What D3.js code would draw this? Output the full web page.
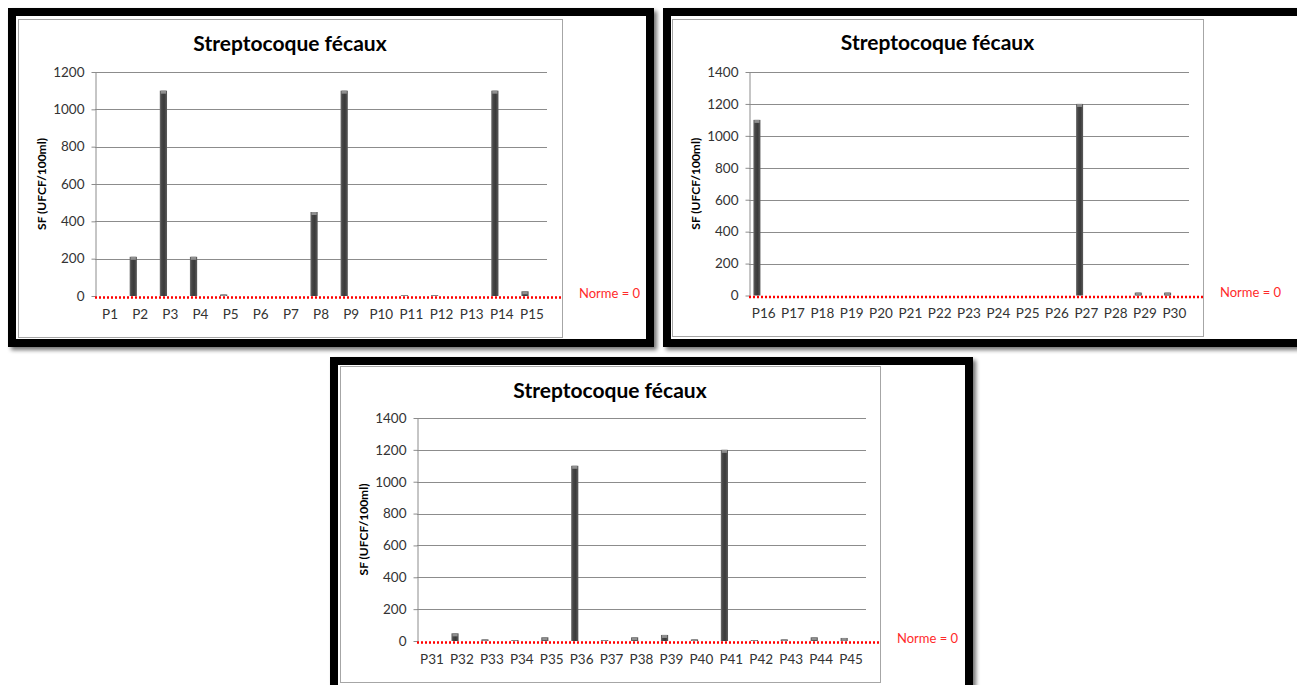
<!DOCTYPE html>
<html>
<head>
<meta charset="utf-8">
<script src="https://cdn.jsdelivr.net/npm/d3@7"></script>
<style>
  html, body { margin: 0; padding: 0; background: #fff; }
  svg { display: block; }
</style>
</head>
<body>
<svg id="fig" width="1297" height="685"></svg>
<script>
// Streptocoque fécaux, SF (UFCF/100ml), stations P1–P45
const stations1 = ["P1","P2","P3","P4","P5","P6","P7","P8","P9","P10","P11","P12","P13","P14","P15"];
const sfValues1 = [0, 210, 1100, 210, 8, 0, 0, 450, 1100, 0, 4, 4, 0, 1100, 25];
const yTicks1 = [0, 200, 400, 600, 800, 1000, 1200];

const stations2 = ["P16","P17","P18","P19","P20","P21","P22","P23","P24","P25","P26","P27","P28","P29","P30"];
const sfValues2 = [1100, 0, 0, 0, 0, 0, 0, 0, 0, 0, 0, 1200, 0, 18, 18];
const yTicks2 = [0, 200, 400, 600, 800, 1000, 1200, 1400];

const stations3 = ["P31","P32","P33","P34","P35","P36","P37","P38","P39","P40","P41","P42","P43","P44","P45"];
const sfValues3 = [0, 48, 10, 6, 23, 1100, 6, 23, 38, 10, 1200, 6, 10, 23, 19];
const yTicks3 = [0, 200, 400, 600, 800, 1000, 1200, 1400];

const chartTitle = "Streptocoque fécaux";
const yAxisTitle = "SF (UFCF/100ml)";
const normeLabel = "Norme = 0";
const normeValue = 0;

const FONT = "Lato, 'Open Sans', sans-serif";
const svg = d3.select("#fig");
const defs = svg.append("defs");

defs.append("filter").attr("id", "frameShadow")
  .attr("x", "-5%").attr("y", "-5%").attr("width", "115%").attr("height", "115%")
  .append("feGaussianBlur").attr("stdDeviation", 2.2);

const barGrad = defs.append("linearGradient").attr("id", "barGrad")
  .attr("x1", "0%").attr("x2", "100%").attr("y1", "0%").attr("y2", "0%");
[[0, "#6e6e6e"], [0.25, "#474747"], [0.6, "#3a3a3a"], [1, "#5c5c5c"]]
  .forEach(([o, c]) => barGrad.append("stop").attr("offset", o).attr("stop-color", c));

// Layout of each framed chart
const panels = [
  { cats: stations1, vals: sfValues1, ticks: yTicks1,
    frame: [8, 8, 654, 347], border: [18, 19, 562, 337],
    plot: { l: 95, r: 547, t: 72, b: 296 },
    titleY: 44, yTitleX: 42, normeX: 579 },
  { cats: stations2, vals: sfValues2, ticks: yTicks2,
    frame: [663, 8, 1320, 347], border: [672, 19, 1203, 336],
    plot: { l: 749, r: 1189, t: 72, b: 295.5 },
    titleY: 43, yTitleX: 696, normeX: 1220 },
  { cats: stations3, vals: sfValues3, ticks: yTicks3,
    frame: [330, 357, 973, 720], border: [340, 366, 880, 682],
    plot: { l: 417, r: 866, t: 418, b: 641 },
    titleY: 391, yTitleX: 364, normeX: 897 }
];

panels.forEach(drawPanel);

function drawPanel(p) {
  const g = svg.append("g");
  const [fx0, fy0, fx1, fy1] = p.frame;
  const T = 8; // frame thickness

  // drop shadow + black frame + white inside
  g.append("rect").attr("x", fx0 + 3).attr("y", fy0 + 3)
    .attr("width", fx1 - fx0).attr("height", fy1 - fy0)
    .attr("fill", "#000").attr("opacity", 0.55).attr("filter", "url(#frameShadow)");
  g.append("rect").attr("x", fx0).attr("y", fy0)
    .attr("width", fx1 - fx0).attr("height", fy1 - fy0).attr("fill", "#000");
  g.append("rect").attr("x", fx0 + T).attr("y", fy0 + T)
    .attr("width", fx1 - fx0 - 2 * T).attr("height", fy1 - fy0 - 2 * T).attr("fill", "#fff");

  // chart area border
  const [bx0, by0, bx1, by1] = p.border;
  g.append("rect").attr("x", bx0 + 0.5).attr("y", by0 + 0.5)
    .attr("width", bx1 - bx0).attr("height", by1 - by0)
    .attr("fill", "#fff").attr("stroke", "#a6a6a6").attr("stroke-width", 1);

  const { l, r, t, b } = p.plot;
  const x = d3.scaleBand().domain(p.cats).range([l, r]).padding(0);
  const y = d3.scaleLinear().domain([0, d3.max(p.ticks)]).range([b, t]);

  // title
  g.append("text").attr("x", (bx0 + bx1) / 2).attr("y", p.titleY).attr("dy", "0.35em")
    .attr("text-anchor", "middle").attr("font-family", FONT).attr("font-weight", "bold")
    .attr("font-size", 21).attr("fill", "#000").text(chartTitle);

  // gridlines
  g.append("g").selectAll("line").data(p.ticks.filter(v => v > 0)).join("line")
    .attr("x1", l).attr("x2", r)
    .attr("y1", d => Math.round(y(d)) + 0.5).attr("y2", d => Math.round(y(d)) + 0.5)
    .attr("stroke", "#8c8c8c").attr("stroke-width", 1);

  // y axis
  const yAxis = g.append("g").attr("transform", `translate(${l + 0.5},0)`)
    .call(d3.axisLeft(y).tickValues(p.ticks).tickFormat(d3.format("d"))
      .tickSize(4).tickSizeOuter(0).tickPadding(7));
  yAxis.select(".domain").attr("stroke", "#8c8c8c");
  yAxis.selectAll(".tick line").attr("stroke", "#8c8c8c");
  yAxis.selectAll(".tick text").attr("font-family", FONT).attr("font-size", 13.5)
    .attr("fill", "#333");

  // y axis title
  g.append("text")
    .attr("transform", `translate(${p.yTitleX},${(t + b) / 2}) rotate(-90)`)
    .attr("dy", "0.35em").attr("text-anchor", "middle")
    .attr("font-family", FONT).attr("font-weight", "bold").attr("font-size", 12)
    .attr("fill", "#000").text(yAxisTitle);

  // x axis labels
  const xAxis = g.append("g").attr("transform", `translate(0,${b})`)
    .call(d3.axisBottom(x).tickSize(0).tickPadding(13));
  xAxis.select(".domain").remove();
  xAxis.selectAll(".tick text").attr("font-family", FONT).attr("font-size", 13.5)
    .attr("fill", "#333");

  // bars (first series of a clustered group)
  const step = x.step();
  const bw = step * 0.24;
  const bars = g.append("g").selectAll("g").data(p.cats.map((c, i) => ({ c, v: p.vals[i] })))
    .join("g").filter(d => d.v > 0);
  bars.append("rect")
    .attr("x", d => x(d.c) + step * 0.15).attr("width", bw)
    .attr("y", d => y(d.v)).attr("height", d => y(0) - y(d.v))
    .attr("fill", "url(#barGrad)");
  bars.append("rect")
    .attr("x", d => x(d.c) + step * 0.15 + 1).attr("width", bw - 2)
    .attr("y", d => y(d.v)).attr("height", d => Math.min(3, y(0) - y(d.v)))
    .attr("fill", "#8f8f8f");

  // norme line
  g.append("line").attr("x1", l).attr("x2", bx1)
    .attr("y1", y(normeValue) + 1.5).attr("y2", y(normeValue) + 1.5)
    .attr("stroke", "#ff0000").attr("stroke-width", 2.5).attr("stroke-dasharray", "2,2");
  g.append("text").attr("x", p.normeX).attr("y", y(normeValue) - 3).attr("dy", "0.35em")
    .attr("font-family", FONT).attr("font-size", 13).attr("fill", "#ff2a2a").text(normeLabel);
}
</script>
</body>
</html>
